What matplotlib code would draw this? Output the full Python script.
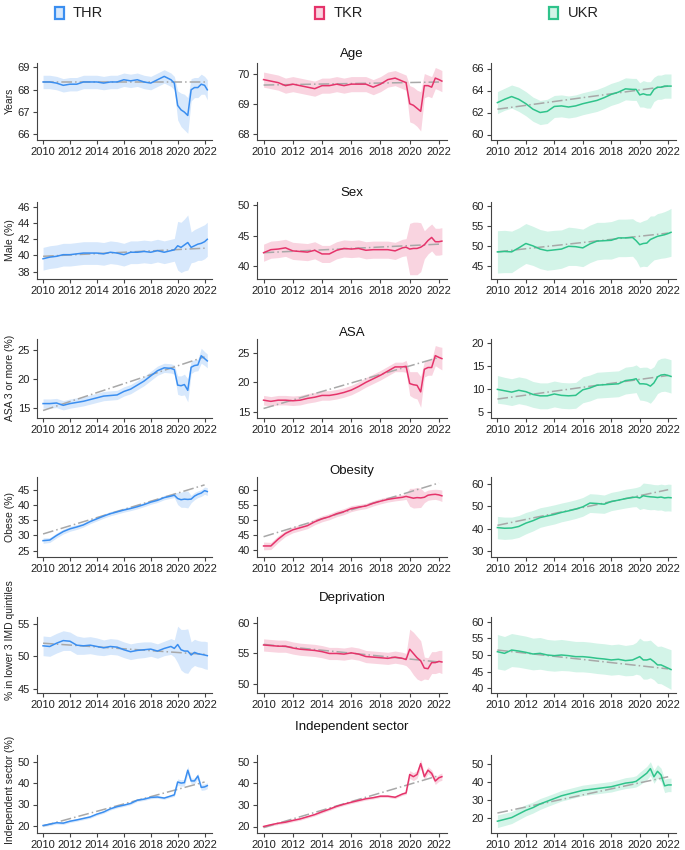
import matplotlib
matplotlib.use("Agg")
import matplotlib.pyplot as plt
from matplotlib.patches import Rectangle
import numpy as np

plt.rcParams['font.family'] = ['Liberation Sans', 'DejaVu Sans']

# ---------------- data ----------------
x = [2010.0, 2010.5, 2011.0, 2011.5, 2012.0, 2012.5, 2013.0, 2013.5, 2014.0, 2014.5,
     2015.0, 2015.5, 2016.0, 2016.5, 2017.0, 2017.5, 2018.0, 2018.5, 2019.0, 2019.5,
     2019.75, 2020.0, 2020.25, 2020.5, 2020.75, 2021.0, 2021.25, 2021.5, 2021.75, 2022.0, 2022.2]

groups = ['THR', 'TKR', 'UKR']
row_titles = ['Age', 'Sex', 'ASA', 'Obesity', 'Deprivation', 'Independent sector']
ylabels = ['Years', 'Male (%)', 'ASA 3 or more (%)', 'Obese (%)',
           '% in lower 3 IMD quintiles', 'Independent sector (%)']
xticks = [2010, 2012, 2014, 2016, 2018, 2020, 2022]

# Age
thr_age = [68.35, 68.35, 68.3, 68.2, 68.25, 68.25, 68.35, 68.35, 68.35, 68.3, 68.35, 68.35, 68.45, 68.4, 68.45, 68.35, 68.3, 68.45, 68.6, 68.45,
           68.3, 67.3, 67.1, 67.0, 66.85, 68.0, 68.1, 68.1, 68.25, 68.2, 68.0]
thr_age_hw = [0.3] * 20 + [0.3, 0.65, 0.75, 0.8, 0.8, 0.5, 0.45, 0.45, 0.45, 0.4, 0.45]
tkr_age = [69.8, 69.75, 69.7, 69.6, 69.65, 69.6, 69.55, 69.5, 69.6, 69.6, 69.65, 69.6, 69.65, 69.65, 69.65, 69.55, 69.65, 69.8, 69.85, 69.75,
           69.7, 69.0, 68.95, 68.85, 68.75, 69.6, 69.6, 69.55, 69.85, 69.8, 69.75]
tkr_age_hw = [0.25] * 20 + [0.25, 0.6, 0.6, 0.6, 0.65, 0.4, 0.35, 0.35, 0.35, 0.35, 0.35]
ukr_age = [62.9, 63.2, 63.45, 63.2, 62.8, 62.3, 62.0, 62.1, 62.55, 62.6, 62.5, 62.6, 62.8, 62.95, 63.1, 63.35, 63.65, 63.85, 64.15, 64.1,
           64.1, 63.6, 63.7, 63.6, 63.6, 64.1, 64.3, 64.3, 64.4, 64.4, 64.4]
ukr_age_hw = [1.0, 1.0, 1.05, 1.1, 1.1, 1.1, 1.1, 1.1, 1.0, 1.0, 1.0, 1.0, 1.0, 1.0, 1.0, 1.0, 1.0, 1.0, 1.0, 1.0,
              1.0, 1.1, 1.2, 1.2, 1.2, 1.1, 1.1, 1.1, 1.1, 1.1, 1.1]

# Sex
thr_sex = [39.6, 39.8, 39.9, 40.1, 40.1, 40.2, 40.3, 40.3, 40.3, 40.2, 40.4, 40.3, 40.1, 40.4, 40.4, 40.5, 40.4, 40.6, 40.4, 40.6,
           40.7, 41.2, 41.0, 41.3, 41.6, 41.0, 41.2, 41.4, 41.5, 41.7, 42.0]
thr_sex_hw = [1.4] * 20 + [1.4, 3.0, 3.1, 3.2, 3.4, 1.9, 2.0, 2.0, 2.1, 2.1, 2.1]
tkr_sex = [42.2, 42.7, 42.8, 43.0, 42.5, 42.4, 42.3, 42.6, 42.0, 42.0, 42.6, 42.9, 42.8, 42.9, 42.6, 42.7, 42.7, 42.7, 42.5, 43.0,
           43.1, 42.8, 42.9, 42.9, 43.1, 43.5, 44.2, 44.7, 44.0, 44.0, 44.1]
tkr_sex_hw = [1.4] * 20 + [1.4, 4.2, 4.3, 4.3, 4.0, 2.3, 2.2, 2.2, 2.2, 2.2, 2.2]
ukr_sex = [48.5, 48.6, 48.5, 49.5, 50.6, 50.0, 49.2, 48.8, 49.0, 49.2, 49.9, 49.8, 49.5, 50.5, 51.2, 51.3, 51.4, 52.0, 52.0, 52.1,
           51.3, 50.3, 50.6, 50.7, 51.6, 52.0, 52.4, 52.6, 52.8, 53.1, 53.4]
ukr_sex_hw = [5.3, 5.3, 5.2, 5.0, 5.0, 4.9, 4.9, 4.9, 4.9, 4.8, 4.8, 4.7, 4.7, 4.7, 4.7, 4.6, 4.7, 4.7, 4.7, 4.7,
              4.9, 5.6, 5.7, 5.9, 5.9, 5.5, 5.7, 5.7, 5.8, 5.9, 6.0]

# ASA
thr_asa = [15.7, 15.7, 15.8, 15.4, 15.7, 15.9, 16.1, 16.4, 16.7, 17.0, 17.1, 17.2, 17.8, 18.2, 18.9, 19.6, 20.5, 21.4, 21.9, 21.8,
           21.6, 18.9, 18.8, 19.0, 18.0, 22.0, 22.3, 22.4, 24.0, 23.5, 23.1]
thr_asa_hw = [0.8] * 20 + [0.8, 1.6, 1.7, 1.8, 2.0, 1.1, 1.0, 1.0, 1.3, 1.2, 1.2]
tkr_asa = [17.0, 16.8, 17.0, 17.0, 16.9, 17.0, 17.3, 17.5, 17.8, 17.8, 18.0, 18.3, 18.7, 19.3, 20.0, 20.6, 21.2, 21.9, 22.6, 22.6,
           22.7, 19.8, 19.6, 19.5, 18.4, 22.2, 22.5, 22.5, 24.5, 24.2, 24.0]
tkr_asa_hw = [0.8] * 20 + [1.0, 2.0, 2.2, 2.3, 2.6, 1.3, 1.3, 1.3, 1.7, 1.8, 1.9]
ukr_asa = [9.9, 9.6, 9.3, 9.7, 9.4, 8.8, 8.5, 8.5, 8.9, 8.6, 8.5, 8.6, 9.8, 10.2, 10.8, 10.9, 11.0, 11.1, 11.8, 12.0,
           12.2, 11.1, 11.1, 11.0, 10.6, 11.3, 12.6, 13.0, 13.1, 12.9, 12.7]
ukr_asa_hw = [3.0, 2.9, 2.9, 2.9, 2.9, 2.8, 2.8, 2.8, 2.8, 2.8, 2.8, 2.8, 2.8, 2.8, 2.8, 2.8, 2.8, 2.8, 2.9, 2.9,
              3.0, 3.5, 3.6, 3.7, 3.7, 3.5, 3.6, 3.6, 3.6, 3.6, 3.6]

# Obesity
thr_obe = [28.3, 28.5, 30.0, 31.3, 32.2, 32.8, 33.5, 34.6, 35.5, 36.4, 37.2, 37.8, 38.4, 38.9, 39.5, 40.2, 41.0, 41.6, 42.5, 43.0,
           43.3, 42.2, 41.8, 42.0, 41.9, 42.0, 43.0, 43.6, 44.0, 44.8, 44.5]
thr_obe_hw = [0.9, 0.8, 0.8, 0.8, 0.8, 0.8, 0.7, 0.7, 0.7, 0.7, 0.7, 0.7, 0.7, 0.7, 0.7, 0.7, 0.7, 0.7, 0.7, 0.7,
              0.8, 2.0, 2.5, 2.7, 2.8, 1.2, 1.2, 1.1, 1.1, 1.2, 1.3]
tkr_obe = [41.2, 41.2, 43.5, 45.4, 46.6, 47.3, 48.0, 49.3, 50.3, 51.0, 52.0, 52.7, 53.7, 54.2, 54.6, 55.5, 56.2, 56.8, 57.2, 57.5,
           57.8, 57.5, 57.2, 57.4, 57.3, 57.5, 58.2, 58.4, 58.5, 58.3, 58.0]
tkr_obe_hw = [1.3, 1.2, 1.1, 1.0, 1.0, 1.0, 1.0, 1.0, 1.0, 1.0, 1.0, 1.0, 1.0, 0.9, 0.9, 0.9, 0.9, 0.9, 0.9, 0.9,
              1.0, 3.0, 3.3, 3.4, 3.2, 1.8, 1.7, 1.7, 1.7, 1.8, 1.9]
ukr_obe = [40.5, 40.2, 40.3, 41.0, 42.5, 43.6, 45.0, 45.7, 46.4, 47.3, 48.0, 48.8, 49.8, 51.5, 51.3, 51.0, 52.2, 52.8, 53.5, 54.0,
           54.2, 53.8, 54.8, 54.5, 54.3, 54.2, 54.0, 54.2, 53.8, 54.0, 53.9]
ukr_obe_hw = [5.0, 5.0, 4.9, 4.9, 4.8, 4.6, 4.4, 4.3, 4.3, 4.2, 4.2, 4.2, 4.2, 4.2, 4.2, 4.1, 4.1, 4.1, 4.2, 4.2,
              4.3, 5.2, 5.7, 5.8, 5.8, 5.6, 5.7, 5.8, 5.9, 6.0, 6.0]

# Deprivation
thr_dep = [51.6, 51.5, 52.0, 52.4, 52.3, 51.7, 51.6, 51.7, 51.5, 51.3, 51.5, 51.4, 51.0, 50.7, 50.9, 51.0, 51.1, 50.8, 51.2, 51.5,
           51.2, 51.8, 51.0, 50.8, 50.8, 50.2, 50.6, 50.4, 50.3, 50.2, 50.1]
thr_dep_hw = [1.5, 1.5, 1.5, 1.5, 1.4, 1.4, 1.3, 1.3, 1.3, 1.2, 1.2, 1.2, 1.2, 1.2, 1.2, 1.2, 1.1, 1.1, 1.1, 1.2,
              1.3, 2.8, 3.1, 3.3, 3.4, 2.0, 2.0, 2.0, 2.0, 2.1, 2.1]
tkr_dep = [56.4, 56.3, 56.2, 56.2, 55.9, 55.7, 55.6, 55.5, 55.3, 55.0, 55.0, 54.9, 55.1, 54.9, 54.5, 54.4, 54.3, 54.2, 54.4, 54.2,
           54.0, 55.7, 55.0, 54.3, 53.8, 52.6, 52.5, 53.5, 53.5, 53.7, 53.6]
tkr_dep_hw = [1.0] * 20 + [1.0, 3.3, 3.5, 3.5, 3.3, 1.8, 1.8, 1.8, 1.8, 1.8, 1.9]
ukr_dep = [51.0, 50.5, 51.5, 51.2, 50.8, 50.3, 50.5, 50.0, 49.8, 50.0, 49.8, 49.5, 49.5, 49.3, 49.0, 48.8, 48.5, 48.7, 48.3, 48.5,
           49.0, 49.5, 48.5, 48.5, 48.8, 48.0, 47.0, 47.0, 46.5, 46.0, 45.6]
ukr_dep_hw = [5.2, 5.1, 5.0, 4.9, 4.9, 4.8, 4.8, 4.7, 4.7, 4.7, 4.6, 4.6, 4.6, 4.6, 4.6, 4.6, 4.6, 4.6, 4.6, 4.7,
              4.8, 5.6, 5.8, 5.8, 5.7, 5.5, 5.6, 5.7, 5.8, 5.9, 6.0]

# Independent sector
thr_ind = [20.2, 20.8, 21.5, 21.3, 22.2, 22.8, 23.5, 24.2, 25.5, 26.5, 28.0, 29.0, 29.7, 30.5, 32.0, 32.5, 33.3, 33.5, 33.0, 34.0,
           34.5, 40.5, 40.0, 40.2, 46.0, 41.0, 41.0, 43.3, 38.0, 38.2, 38.8]
thr_ind_hw = [0.6] * 20 + [0.7, 1.5, 1.5, 1.5, 1.8, 1.3, 1.3, 1.3, 1.4, 1.4, 1.4]
tkr_ind = [20.0, 20.8, 21.5, 22.0, 22.8, 23.5, 24.5, 25.5, 26.8, 28.0, 29.3, 30.3, 31.2, 32.0, 32.8, 33.3, 34.0, 34.0, 33.5, 35.0,
           35.5, 44.0, 43.0, 44.0, 49.0, 43.0, 46.0, 44.5, 41.0, 42.5, 43.0]
tkr_ind_hw = [0.6] * 20 + [0.7, 1.8, 1.8, 1.8, 2.0, 1.6, 1.6, 1.6, 1.6, 1.6, 1.7]
ukr_ind = [18.5, 19.5, 20.5, 22.5, 24.5, 26.0, 28.0, 29.5, 31.0, 32.5, 33.5, 34.5, 35.5, 36.0, 36.5, 37.0, 37.5, 38.5, 39.5, 40.0,
           40.5, 42.0, 43.5, 45.0, 47.5, 43.0, 46.0, 44.0, 38.0, 38.5, 38.5]
ukr_ind_hw = [3.5, 3.4, 3.3, 3.2, 3.1, 3.0, 3.0, 2.9, 2.9, 2.9, 2.9, 2.9, 2.9, 2.9, 2.9, 2.9, 2.9, 2.9, 3.0, 3.0,
              3.1, 3.5, 3.6, 3.7, 3.8, 3.6, 3.7, 3.7, 3.7, 3.7, 3.7]

# trend lines (value at 2010, value at 2022)
trend_x = [2010, 2022]
trends = [
    [[68.33, 68.33], [69.62, 69.72], [62.3, 64.4]],
    [[39.9, 40.9], [42.2, 43.6], [48.5, 53.2]],
    [[14.5, 23.8], [15.6, 24.2], [7.8, 12.9]],
    [[30.5, 46.7], [44.3, 62.3], [41.5, 57.5]],
    [[52.0, 50.3], [56.5, 53.6], [51.5, 45.8]],
    [[20.0, 40.5], [19.5, 43.5], [23.0, 43.0]],
]

means = [
    [thr_age, tkr_age, ukr_age],
    [thr_sex, tkr_sex, ukr_sex],
    [thr_asa, tkr_asa, ukr_asa],
    [thr_obe, tkr_obe, ukr_obe],
    [thr_dep, tkr_dep, ukr_dep],
    [thr_ind, tkr_ind, ukr_ind],
]
halfwidths = [
    [thr_age_hw, tkr_age_hw, ukr_age_hw],
    [thr_sex_hw, tkr_sex_hw, ukr_sex_hw],
    [thr_asa_hw, tkr_asa_hw, ukr_asa_hw],
    [thr_obe_hw, tkr_obe_hw, ukr_obe_hw],
    [thr_dep_hw, tkr_dep_hw, ukr_dep_hw],
    [thr_ind_hw, tkr_ind_hw, ukr_ind_hw],
]

yticks = [
    [[66, 67, 68, 69], [68, 69, 70], [60, 62, 64, 66]],
    [[38, 40, 42, 44, 46], [40, 45, 50], [45, 50, 55, 60]],
    [[15, 20, 25], [15, 20, 25], [5, 10, 15, 20]],
    [[25, 30, 35, 40, 45], [40, 45, 50, 55, 60], [30, 40, 50, 60]],
    [[45, 50, 55], [50, 55, 60], [40, 45, 50, 55, 60]],
    [[20, 30, 40, 50], [20, 30, 40, 50], [20, 30, 40, 50]],
]
ylims = [
    [(65.75, 69.2), (67.8, 70.35), (59.5, 66.5)],
    [(37.1, 46.6), (37.9, 50.5), (41.7, 61.0)],
    [(13.2, 26.9), (14.0, 27.3), (3.7, 20.8)],
    [(22.9, 49.3), (37.5, 64.3), (27.3, 63.2)],
    [(44.4, 56.0), (48.5, 61.0), (38.5, 61.5)],
    [(16.7, 53.1), (17.0, 53.0), (12.0, 55.0)],
]

line_colors = ['#3a8ef0', '#e5336a', '#2fc38b']
band_colors = ['#d7e8fc', '#f9d4e0', '#d3f4e8']

# ---------------- layout (pixels) ----------------
W, H = 685, 850
fig = plt.figure(figsize=(W / 100, H / 100), dpi=100)

col_left = [37, 257, 491]
col_width = [175, 190, 185]
row_top = [63, 202, 339, 477, 617, 755]
row_bot = [140, 279, 418, 557, 693, 833]
title_y = [54, 193, 333, 471, 598, 727]
ylabel_y = [101, 240, 378, 517, 640, 790]

axis_color = '#444444'

for r in range(6):
    for c in range(3):
        l, w = col_left[c], col_width[c]
        t, b = row_top[r], row_bot[r]
        ax = fig.add_axes([l / W, 1 - b / H, w / W, (b - t) / H])
        m = np.array(means[r][c])
        hw = np.array(halfwidths[r][c])
        ax.fill_between(x, m - hw, m + hw, color=band_colors[c], lw=0, zorder=1)
        ax.plot(trend_x, trends[r][c], color='#a8a8a8', lw=1.1,
                linestyle=(0, (7, 2, 1, 2)), zorder=2)
        ax.plot(x, m, color=line_colors[c], lw=1.1, zorder=3)
        ax.set_xlim(2009.55, 2022.55)
        ax.set_ylim(*ylims[r][c])
        ax.set_xticks(xticks)
        ax.set_yticks(yticks[r][c])
        for s in ['top', 'right']:
            ax.spines[s].set_visible(False)
        for s in ['left', 'bottom']:
            ax.spines[s].set_color(axis_color)
            ax.spines[s].set_linewidth(0.8)
        ax.tick_params(axis='both', labelsize=8, length=3, width=0.8,
                       color=axis_color, labelcolor='#222222', pad=2)
        if c == 0:
            fig.text(10 / W, 1 - ylabel_y[r] / H, ylabels[r], rotation=90,
                     ha='center', va='center', fontsize=7.5, color='#222222')
    fig.text((col_left[1] + col_width[1] / 2) / W, 1 - title_y[r] / H, row_titles[r],
             ha='center', va='center', fontsize=9.5, color='#111111')

# ---------------- legend ----------------
leg_sq_x = [55, 315, 549]
leg_txt_x = [73, 334, 568]
leg_y = 13
for i, g in enumerate(groups):
    sq_w, sq_h = 9, 12
    rect = Rectangle((leg_sq_x[i] / W, 1 - (leg_y + sq_h / 2) / H), sq_w / W, sq_h / H,
                     transform=fig.transFigure, facecolor=band_colors[i],
                     edgecolor=line_colors[i], lw=1.6)
    fig.patches.append(rect)
    fig.text(leg_txt_x[i] / W, 1 - leg_y / H, g, ha='left', va='center',
             fontsize=10.5, color='#222222')

fig.savefig('out.png', dpi=100)
